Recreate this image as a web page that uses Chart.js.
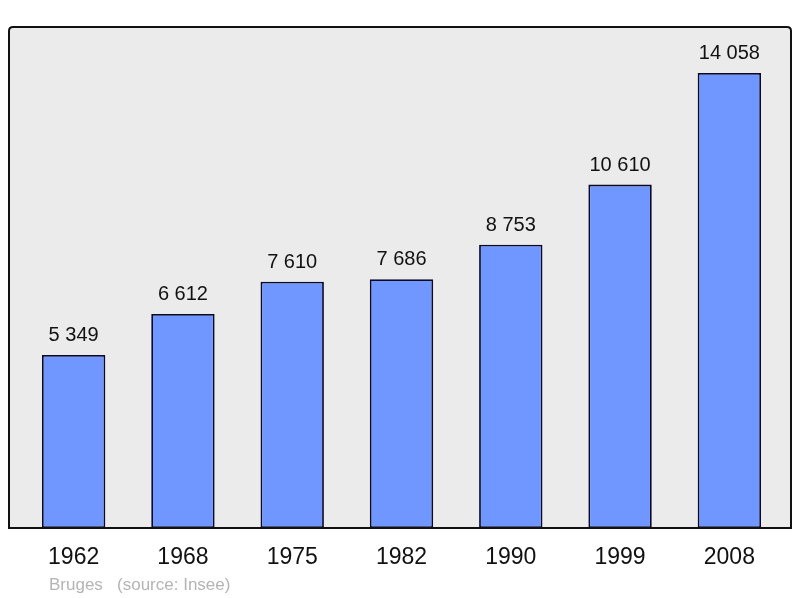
<!DOCTYPE html>
<html>
<head>
<meta charset="utf-8">
<script src="https://cdn.jsdelivr.net/npm/chart.js@4/dist/chart.umd.min.js"></script>
<style>
  html, body { margin: 0; padding: 0; background: #fff; }
  #wrap { width: 800px; height: 598px; }
</style>
</head>
<body>
<div id="wrap"><canvas id="popChart" width="800" height="598"></canvas></div>
<script>
// Population data
const years = ['1962', '1968', '1975', '1982', '1990', '1999', '2008'];
const population = [5349, 6612, 7610, 7686, 8753, 10610, 14058];
const footerText = 'Bruges   (source: Insee)';

function fmt(n) {
    return String(n).replace(/\B(?=(\d{3})+(?!\d))/g, ' ');
}

// Grey box behind the bars, value labels, footer
const decorPlugin = {
    id: 'decor',
    beforeDatasetsDraw(chart) {
        const ctx = chart.ctx;
        const a = chart.chartArea;
        ctx.save();
        ctx.fillStyle = '#ebebeb';
        ctx.fillRect(9, a.top, 782, a.bottom - a.top);
        ctx.restore();
    },
    afterDatasetsDraw(chart) {
        const ctx = chart.ctx;
        const a = chart.chartArea;
        ctx.save();
        ctx.strokeStyle = '#111';
        ctx.lineWidth = 2;
        ctx.beginPath();
        ctx.moveTo(9, a.bottom);
        ctx.lineTo(9, a.top + 4);
        ctx.quadraticCurveTo(9, a.top, 13, a.top);
        ctx.lineTo(787, a.top);
        ctx.quadraticCurveTo(791, a.top, 791, a.top + 4);
        ctx.lineTo(791, a.bottom);
        ctx.closePath();
        ctx.stroke();

        ctx.fillStyle = '#111';
        ctx.font = '20px "Liberation Sans", Arial, sans-serif';
        ctx.textAlign = 'center';
        ctx.textBaseline = 'alphabetic';
        chart.getDatasetMeta(0).data.forEach((bar, i) => {
            ctx.fillText(fmt(population[i]), bar.x, bar.y - 14);
        });

        ctx.fillStyle = '#b4b4b4';
        ctx.font = '17px "Liberation Sans", Arial, sans-serif';
        ctx.textAlign = 'left';
        ctx.fillText(footerText, 49, 590);
        ctx.restore();
    }
};

new Chart(document.getElementById('popChart').getContext('2d'), {
    type: 'bar',
    data: {
        labels: years,
        datasets: [{
            data: population,
            backgroundColor: '#7097ff',
            borderColor: '#0a0a28',
            borderWidth: 1.8,
            borderSkipped: false,
            categoryPercentage: 1,
            barPercentage: 0.58
        }]
    },
    options: {
        responsive: false,
        animation: false,
        layout: { padding: { left: 19, right: 16, top: 27, bottom: 0 } },
        plugins: {
            legend: { display: false },
            tooltip: { enabled: false }
        },
        scales: {
            x: {
                grid: { display: false, drawTicks: false },
                border: { display: false },
                ticks: {
                    color: '#111',
                    padding: 16,
                    font: { family: '"Liberation Sans", Arial, sans-serif', size: 23 }
                },
                afterFit(scale) { scale.height = 70; }
            },
            y: {
                display: false,
                min: 0,
                max: 15480
            }
        }
    },
    plugins: [decorPlugin]
});
</script>
</body>
</html>
